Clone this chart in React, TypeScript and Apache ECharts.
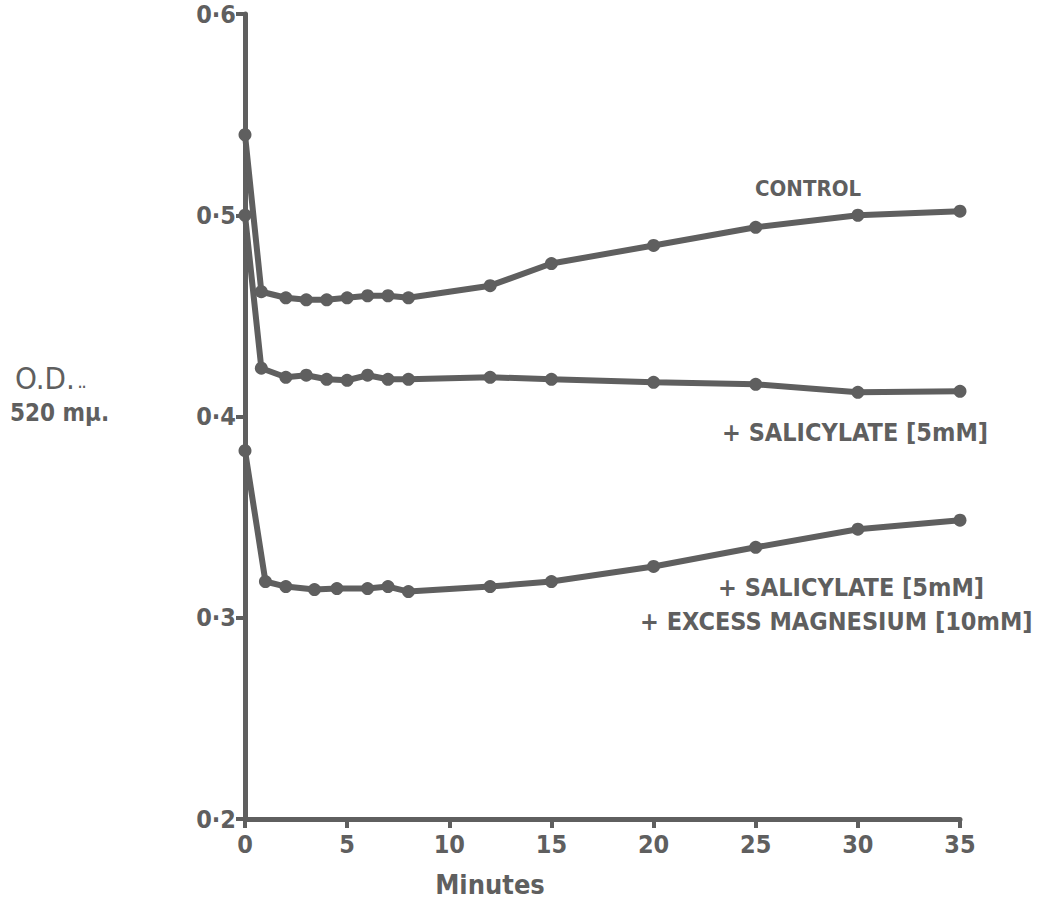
import React, { useEffect, useRef } from "react";
import * as echarts from "echarts";

// Time (minutes) and optical density (520 mμ) readings
const controlTimes = [0, 0.8, 2, 3, 4, 5, 6, 7, 8, 12, 15, 20, 25, 30, 35];
const controlOD = [0.54, 0.462, 0.459, 0.458, 0.458, 0.459, 0.46, 0.46, 0.459, 0.465, 0.476, 0.485, 0.494, 0.5, 0.502];

const salicylateTimes = [0, 0.8, 2, 3, 4, 5, 6, 7, 8, 12, 15, 20, 25, 30, 35];
const salicylateOD = [0.5, 0.424, 0.4195, 0.4205, 0.4185, 0.418, 0.4205, 0.4185, 0.4185, 0.4195, 0.4185, 0.417, 0.416, 0.412, 0.4125];

const magnesiumTimes = [0, 1, 2, 3.4, 4.5, 6, 7, 8, 12, 15, 20, 25, 30, 35];
const magnesiumOD = [0.383, 0.318, 0.3155, 0.314, 0.3145, 0.3145, 0.3155, 0.313, 0.3155, 0.318, 0.3255, 0.335, 0.344, 0.3485];

const xTicks = { min: 0, max: 35, interval: 5 };
const yTicks = { min: 0.2, max: 0.6, interval: 0.1 };

const seriesLabels = ["CONTROL", "+ SALICYLATE [5mM]", "+ SALICYLATE [5mM]", "+ EXCESS MAGNESIUM [10mM]"];

const INK = "#5f5f5f";
const FONT = "'DejaVu Sans Condensed', 'DejaVu Sans', sans-serif";

function zip(t: number[], v: number[]) {
  return t.map((x, i) => [x, v[i]]);
}

export default function App() {
  const ref = useRef<HTMLDivElement>(null);
  useEffect(() => {
    if (!ref.current) return;
    const chart = echarts.init(ref.current, null, { renderer: "svg" });
    const lineSeries = (name: string, data: number[][]) => ({
      name,
      type: "line",
      data,
      symbol: "circle",
      symbolSize: 13,
      lineStyle: { color: INK, width: 6 },
      itemStyle: { color: INK },
      z: 3,
    });
    const text = (x: number, y: number, t: string, size: number, weight = "bold", align = "left") => ({
      type: "text",
      x,
      y,
      style: {
        text: t,
        fill: INK,
        font: `${weight} ${size}px ${FONT}`,
        textAlign: align,
        textVerticalAlign: "middle",
      },
    });
    chart.setOption({
      animation: false,
      backgroundColor: "#ffffff",
      grid: { left: 245, right: 81, top: 14, bottom: 80 },
      xAxis: {
        type: "value",
        min: xTicks.min,
        max: xTicks.max,
        interval: xTicks.interval,
        axisLine: { show: true, lineStyle: { color: INK, width: 5 } },
        axisTick: { show: true, length: 9, lineStyle: { color: INK, width: 4 } },
        splitLine: { show: false },
        axisLabel: { color: INK, fontSize: 25, fontWeight: "bold", fontFamily: FONT, margin: 13 },
      },
      yAxis: {
        type: "value",
        min: yTicks.min,
        max: yTicks.max,
        interval: yTicks.interval,
        axisLine: { show: true, lineStyle: { color: INK, width: 5 } },
        axisTick: { show: true, length: 9, lineStyle: { color: INK, width: 4 } },
        splitLine: { show: false },
        axisLabel: {
          color: INK,
          fontSize: 25,
          fontWeight: "bold",
          fontFamily: FONT,
          margin: 9,
          formatter: (v: number) => v.toFixed(1).replace(".", "·"),
        },
      },
      series: [
        lineSeries("Control", zip(controlTimes, controlOD)),
        lineSeries("Salicylate", zip(salicylateTimes, salicylateOD)),
        lineSeries("Salicylate + Magnesium", zip(magnesiumTimes, magnesiumOD)),
      ],
      graphic: [
        text(755, 188, seriesLabels[0], 22),
        text(722, 432, seriesLabels[1], 25),
        text(718, 587, seriesLabels[2], 25),
        text(640, 621, seriesLabels[3], 25),
        text(15, 378, "O.D.", 31, "normal"),
        text(78, 384, "..", 12, "bold"),
        text(10, 413, "520 mμ.", 24, "bold"),
        text(490, 884, "Minutes", 27, "bold", "center"),
      ],
    });
    return () => chart.dispose();
  }, []);
  return (
    <div style={{ position: "absolute", left: 0, top: 0 }}>
      <div ref={ref} style={{ width: 1041, height: 899 }} />
    </div>
  );
}
